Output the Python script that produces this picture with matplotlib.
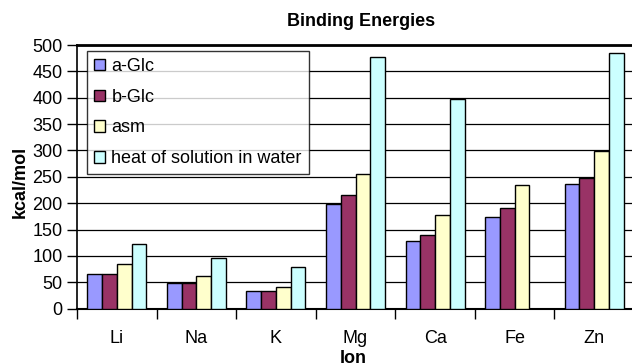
import numpy as np
import matplotlib.pyplot as plt
from matplotlib.patches import Patch

plt.rcParams['font.family'] = ['Liberation Sans', 'DejaVu Sans']

ions = ['Li', 'Na', 'K', 'Mg', 'Ca', 'Fe', 'Zn']
series_names = ['a-Glc', 'b-Glc', 'asm', 'heat of solution in water']
a_glc = [65, 48, 34, 198, 128, 174, 237]
b_glc = [65, 48, 34, 215, 140, 191, 248]
asm = [85, 62, 42, 255, 178, 235, 299]
heat = [123, 97, 80, 477, 397, np.nan, 485]  # no value for Fe
colors = ['#9999FF', '#993366', '#FFFFCC', '#CCFFFF']

fig = plt.figure(figsize=(6.32, 3.63), dpi=100)
ax = fig.add_axes([77 / 632, 1 - 308.7 / 363, 557 / 632, 263.7 / 363])

x = np.arange(len(ions))
width = 0.185
for k, (vals, c) in enumerate(zip([a_glc, b_glc, asm, heat], colors)):
    offs = (k - 1.5) * width
    ax.bar(x + offs, vals, width, color=c, edgecolor='black', linewidth=1.0, zorder=3)

ax.set_xlim(-0.5, len(ions) - 0.5)
ax.set_ylim(0, 500)
ax.set_yticks(np.arange(0, 501, 50))
ax.yaxis.grid(True, color='black', linewidth=0.9, zorder=0)
ax.set_axisbelow(True)

# category ticks sit between groups, labels at group centres
ax.set_xticks(np.arange(-0.5, len(ions), 1.0))
ax.set_xticklabels([])
ax.set_xticks(x, minor=True)
ax.set_xticklabels(ions, minor=True)
ax.tick_params(axis='x', which='major', direction='out', length=7, width=1)
ax.tick_params(axis='x', which='minor', length=0, pad=15, labelsize=13)
ax.tick_params(axis='y', direction='out', length=7, width=1, labelsize=13, pad=3.5)

for side in ['top', 'right']:
    ax.spines[side].set_visible(False)
ax.spines['left'].set_linewidth(1.2)
ax.spines['bottom'].set_linewidth(1.5)
ax.axhline(500, color='black', linewidth=2, zorder=4, clip_on=False)

ax.set_ylabel('kcal/mol', fontsize=13, fontweight='bold')
ax.yaxis.set_label_coords(-0.087, 0.48)
ax.set_xlabel('Ion', fontsize=13, fontweight='bold')
ax.xaxis.set_label_coords(0.4955, -0.157)
fig.text(361 / 632, 1 - 22 / 363, 'Binding Energies', fontsize=13,
         fontweight='bold', ha='center', va='center')

handles = [Patch(facecolor=c, edgecolor='black', linewidth=1.0) for c in colors]
leg = ax.legend(handles, series_names, loc='upper left',
                bbox_to_anchor=(0.018, 0.978), borderaxespad=0,
                fontsize=13, frameon=True, fancybox=False,
                handlelength=0.6, handleheight=0.6, handletextpad=0.35,
                labelspacing=0.76, borderpad=0.4)
leg.get_frame().set_edgecolor('black')
leg.get_frame().set_linewidth(1.0)

fig.savefig('out.png', dpi=100)
